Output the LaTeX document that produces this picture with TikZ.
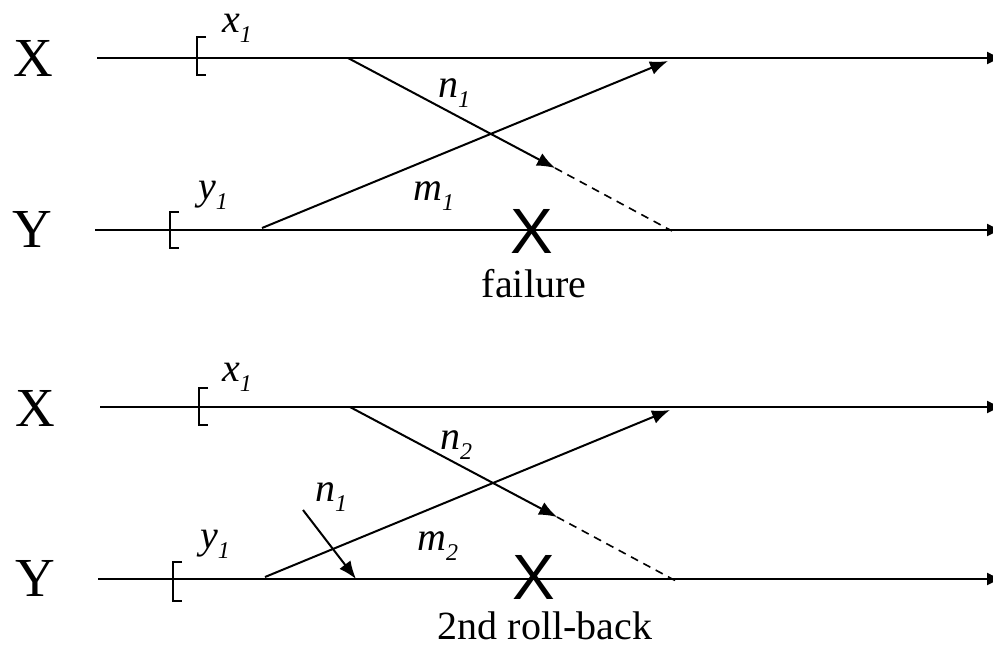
\documentclass[tikz,border=0pt]{standalone}
\usepackage{fontspec}
\setmainfont{Liberation Serif}
\newfontfamily\crossfont{Liberation Sans}
\usetikzlibrary{arrows.meta}
\newcommand{\msglbl}[2]{\textit{#1}\raisebox{-0.27em}{\fontsize{24}{24}\selectfont\textit{#2}}}
\tikzset{
  proc/.style={font=\fontsize{55}{55}\selectfont, inner sep=0pt},
  ckpt/.style={line width=2.4pt},
  lbl/.style={font=\fontsize{40}{40}\selectfont, inner sep=0pt, anchor=base west},
  note/.style={font=\fontsize{40}{40}\selectfont, inner sep=0pt, anchor=base},
  cross/.style={font=\crossfont\fontsize{64}{64}\selectfont, inner sep=0pt},
  timeline/.style={line width=2pt, -{Latex[length=16pt,width=13pt]}},
  msgarrow/.style={line width=2pt, -{Latex[length=18pt,width=14pt]}},
  lost/.style={line width=1.6pt, dash pattern=on 8pt off 6pt},
}
\begin{document}
\begin{tikzpicture}[x=1pt,y=-1pt]
\useasboundingbox (0,0) rectangle (993,649);

% failure
\node[proc] (X1) at (33,58) {X};
\node[proc] (Y1) at (32,229) {Y};
\coordinate (x1s) at (97,58);  \coordinate (x1e) at (1003,58);
\coordinate (y1s) at (95,230); \coordinate (y1e) at (1003,230);
\draw[timeline] (x1s) -- (x1e);
\draw[timeline] (y1s) -- (y1e);
\draw[ckpt] (206,37) -- (197,37) -- (197,75) -- (206,75);
\draw[ckpt] (179,212) -- (170,212) -- (170,248) -- (179,248);
\node[lbl] (lx1) at (222,32) {\msglbl{x}{1}};
\node[lbl] (ly1) at (198,199) {\msglbl{y}{1}};

\coordinate (n1s) at (348,58);  \coordinate (n1e) at (555,168);
\coordinate (n1d) at (672,231);
\draw[msgarrow] (n1s) -- (n1e);
\draw[lost] (n1e) -- (n1d);
\coordinate (m1s) at (262,228); \coordinate (m1e) at (668,61);
\draw[msgarrow] (m1s) -- (m1e);
\node[lbl] (ln1) at (438,97) {\msglbl{n}{1}};
\node[lbl] (lm1) at (413,200) {\msglbl{m}{1}};
\node[cross] (fail) at (532,231) {X};
\node[note] (tfail) at (534,297) {failure};

% 2nd roll-back
\node[proc] (X2) at (35,408) {X};
\node[proc] (Y2) at (35,578) {Y};
\coordinate (x2s) at (100,407); \coordinate (x2e) at (1003,407);
\coordinate (y2s) at (98,579);  \coordinate (y2e) at (1003,579);
\draw[timeline] (x2s) -- (x2e);
\draw[timeline] (y2s) -- (y2e);
\draw[ckpt] (208,388) -- (199,388) -- (199,425) -- (208,425);
\draw[ckpt] (182,562) -- (173,562) -- (173,601) -- (182,601);
\node[lbl] (lx2) at (222,381) {\msglbl{x}{1}};
\node[lbl] (ly2) at (200,548) {\msglbl{y}{1}};

\coordinate (n2s) at (350,407); \coordinate (n2e) at (557,517);
\coordinate (n2d) at (676,581);
\draw[msgarrow] (n2s) -- (n2e);
\draw[lost] (n2e) -- (n2d);
\coordinate (m2s) at (265,577); \coordinate (m2e) at (670,410);
\draw[msgarrow] (m2s) -- (m2e);
\coordinate (r1s) at (303,510); \coordinate (r1e) at (356,579);
\draw[msgarrow] (r1s) -- (r1e);
\node[lbl] (ln2) at (440,449) {\msglbl{n}{2}};
\node[lbl] (lm2) at (417,550) {\msglbl{m}{2}};
\node[lbl] (lr1) at (315,501) {\msglbl{n}{1}};
\node[cross] (roll) at (534,577) {X};
\node[note] (troll) at (545,639.5) {2nd roll-back};
\end{tikzpicture}
\end{document}
